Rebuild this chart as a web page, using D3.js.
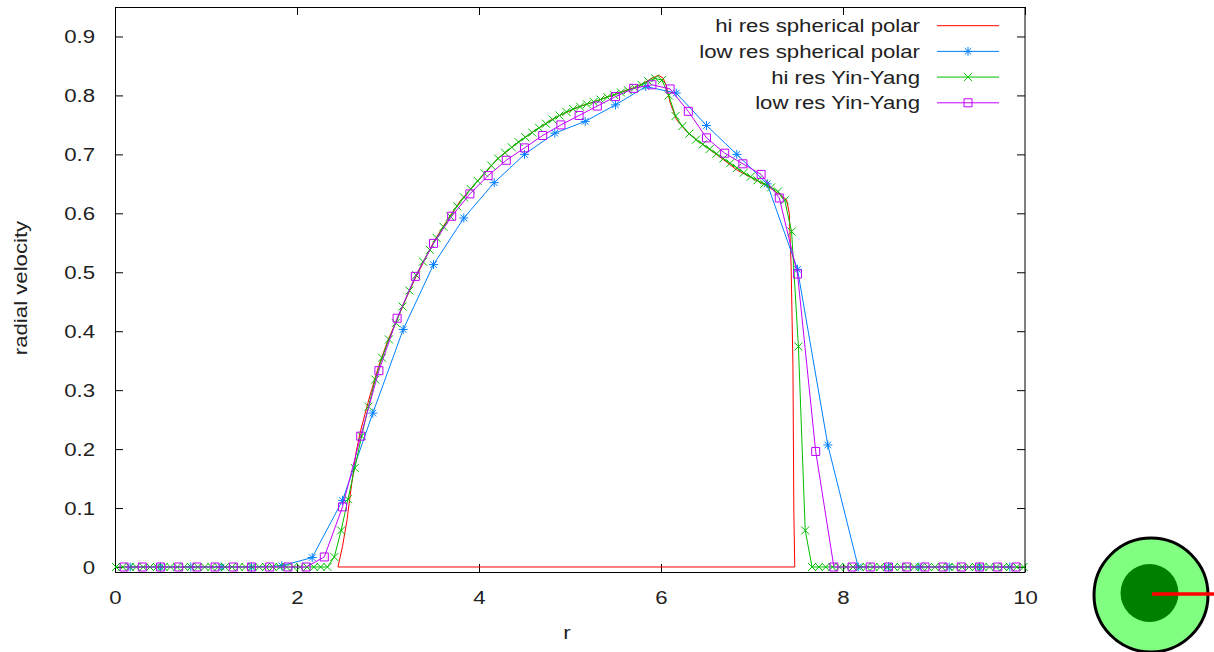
<!DOCTYPE html>
<html><head><meta charset="utf-8">
<script src="https://cdn.jsdelivr.net/npm/d3@7"></script>
<style>
body{margin:0;background:#fff}
svg{display:block}
text{font-family:"Liberation Sans",Arial,sans-serif;fill:#222}
</style></head><body>
<script>
// ---------- data ----------
const xTicks = [0, 2, 4, 6, 8, 10];
const yTicks = [0, 0.1, 0.2, 0.3, 0.4, 0.5, 0.6, 0.7, 0.8, 0.9];
const yTickLabels = ["0","0.1","0.2","0.3","0.4","0.5","0.6","0.7","0.8","0.9"];
const seriesNames = ["hi res spherical polar","low res spherical polar","hi res Yin-Yang","low res Yin-Yang"];

// hi res spherical polar (line only)
const hiSpR = [2.45,2.50,2.55,2.60,2.65,2.70,2.80,2.90,3.00,3.10,3.20,3.30,3.40,3.50,3.60,3.70,3.80,3.90,4.00,4.10,4.20,4.30,4.40,4.50,4.60,4.70,4.80,4.90,5.00,5.10,5.20,5.30,5.40,5.50,5.60,5.70,5.80,5.90,5.97,6.02,6.06,6.10,6.17,6.28,6.43,6.61,6.83,7.00,7.20,7.30,7.38,7.41,7.43,7.45,7.46,7.47,2.45];
const hiSpV = [0,0.035,0.08,0.14,0.195,0.232,0.29,0.342,0.385,0.42,0.456,0.49,0.52,0.551,0.576,0.60,0.622,0.64,0.657,0.674,0.692,0.704,0.717,0.728,0.739,0.749,0.759,0.767,0.774,0.781,0.786,0.791,0.797,0.802,0.808,0.813,0.82,0.829,0.834,0.83,0.816,0.788,0.759,0.739,0.72,0.70,0.674,0.66,0.643,0.632,0.623,0.60,0.51,0.34,0.09,0,0];

// low res spherical polar
const loSpR = [0.167,0.5,0.833,1.167,1.5,1.833,2.167,2.5,2.833,3.167,3.5,3.833,4.167,4.5,4.833,5.167,5.5,5.833,6.167,6.5,6.833,7.167,7.5,7.833,8.167,8.5,8.833,9.167,9.5,9.833];
const loSpV = [0,0,0,0,0,0.002,0.016,0.113,0.261,0.403,0.513,0.592,0.652,0.700,0.736,0.756,0.784,0.815,0.804,0.749,0.700,0.650,0.505,0.207,0,0,0,0,0,0];

// hi res Yin-Yang
const hiYyR = [0.01,0.085,0.16,0.235,0.31,0.385,0.46,0.535,0.61,0.685,0.76,0.835,0.91,0.985,1.06,1.135,1.21,1.285,1.36,1.435,1.51,1.585,1.66,1.735,1.81,1.885,1.96,2.035,2.11,2.185,2.26,2.335,
 2.41,2.485,2.56,2.635,2.71,2.785,2.86,2.935,3.01,3.085,3.16,3.235,3.31,3.385,3.46,3.535,3.61,3.685,3.76,3.835,3.91,3.985,4.06,4.135,4.21,4.285,4.36,4.435,4.51,4.585,4.66,4.735,4.81,4.885,4.96,5.035,5.11,5.185,5.26,5.335,5.41,5.485,5.56,5.635,5.71,5.785,5.86,5.935,6.01,6.085,6.16,6.235,6.31,6.385,6.46,6.535,6.61,6.685,6.76,6.835,6.91,6.985,7.06,7.135,7.21,7.285,7.36,7.435,7.51,7.585,
 7.66,7.735,7.81,7.885,7.96,8.035,8.11,8.185,8.26,8.335,8.41,8.485,8.56,8.635,8.71,8.785,8.86,8.935,9.01,9.085,9.16,9.235,9.31,9.385,9.46,9.535,9.61,9.685,9.76,9.835,9.91,9.985];
const hiYyV = [0,0,0,0,0,0,0,0,0,0,0,0,0,0,0,0,0,0,0,0,0,0,0,0,0,0,0,0,0,0,0,0,
 0.017,0.062,0.115,0.168,0.222,0.272,0.318,0.355,0.386,0.414,
 0.442,0.469,0.495,0.518,0.538,0.558,0.577,0.595,0.612,0.627,
 0.641,0.655,0.668,0.681,0.693,0.703,0.712,0.721,0.729,0.737,
 0.745,0.752,0.759,0.766,0.772,0.777,0.781,0.785,0.789,0.793,
 0.797,0.801,0.805,0.809,0.813,0.818,0.824,0.829,0.826,0.800,
 0.765,0.748,0.735,0.725,0.717,0.709,0.701,0.693,0.685,0.677,
 0.669,0.662,0.656,0.650,0.644,0.637,0.622,0.569,0.374,0.062,
 0,0,0,0,0,0,0,0,0,0,0,0,0,0,0,0,0,0,0,0,0,0,0,0,0,0,0,0,0,0,0,0];

// low res Yin-Yang
const loYyR = [0.1,0.3,0.5,0.7,0.9,1.1,1.3,1.5,1.7,1.9,2.1,2.3,2.5,2.7,2.9,3.1,3.3,3.5,3.7,3.9,4.1,4.3,4.5,4.7,4.9,5.1,5.3,5.5,5.7,5.9,6.1,6.3,6.5,6.7,6.9,7.1,7.3,7.5,7.7,7.9,8.1,8.3,8.5,8.7,8.9,9.1,9.3,9.5,9.7,9.9];
const loYyV = [0,0,0,0,0,0,0,0,0,0,0,0.017,0.102,0.222,0.333,0.422,0.493,0.549,0.595,0.633,0.664,0.690,0.711,0.732,0.750,0.766,0.782,0.798,0.812,0.818,0.811,0.773,0.728,0.702,0.684,0.666,0.626,0.497,0.196,0,0,0,0,0,0,0,0,0,0,0];

// ---------- chart ----------
const W = 1214, H = 652;
const FS = 18.5, SX = 1.2;
const colors = ["#ff0000","#0080ff","#00c000","#c000ff"];
const markers = [null,"star","cross","square"];

const svg = d3.select("body").append("svg").attr("width", W).attr("height", H);
const x = d3.scaleLinear().domain([0, 10]).range([115, 1025]);
const y = d3.scaleLinear().domain([-0.0085, 0.95]).range([572, 7]);

function stretch(sel, anchorX) {
  sel.attr("x", anchorX / SX).attr("transform", `scale(${SX},1)`)
     .style("font-size", FS + "px").attr("fill", "#222");
}

// axes
const gB = svg.append("g").attr("transform", "translate(0,572)")
  .call(d3.axisBottom(x).tickValues(xTicks).tickSizeInner(-8).tickSizeOuter(0).tickPadding(19).tickFormat(d3.format("d")));
const gL = svg.append("g").attr("transform", "translate(115,0)")
  .call(d3.axisLeft(y).tickValues(yTicks).tickSizeInner(-8).tickSizeOuter(0).tickPadding(20).tickFormat((d, i) => yTickLabels[i]));
const gT = svg.append("g").attr("transform", "translate(0,7)")
  .call(d3.axisTop(x).tickValues(xTicks).tickSizeInner(-8).tickSizeOuter(0).tickFormat(""));
const gR = svg.append("g").attr("transform", "translate(1025,0)")
  .call(d3.axisRight(y).tickValues(yTicks).tickSizeInner(-8).tickSizeOuter(0).tickFormat(""));
[gB, gL, gT, gR].forEach(g => {
  g.select(".domain").remove();
  g.selectAll(".tick line").attr("stroke", "#000").attr("stroke-width", 1);
  g.attr("font-family", null).attr("font-size", null);
});
gB.selectAll(".tick text").each(function () {
  d3.select(this).attr("y", 19).attr("dy", "0.71em").call(stretch, 0);
});
gL.selectAll(".tick text").each(function () {
  d3.select(this).attr("dy", "0.35em").call(stretch, -20);
});

// frame
svg.append("rect").attr("x", 115.5).attr("y", 7.5).attr("width", 909.5).attr("height", 565)
  .attr("fill", "none").attr("stroke", "#000").attr("stroke-width", 1);

// axis titles
svg.append("text").attr("text-anchor", "middle")
  .attr("transform", `translate(567,639) scale(${SX},1)`).style("font-size", FS + "px").text("r");
svg.append("text").attr("text-anchor", "middle")
  .attr("transform", `translate(27,288) rotate(-90) scale(${SX},1)`).style("font-size", FS + "px").text("radial velocity");

function markerPath(type) {
  if (type === "star") return "M-4.5,0H4.5M0,-4.5V4.5M-3.3,-3.3L3.3,3.3M-3.3,3.3L3.3,-3.3";
  if (type === "cross") return "M-4,-4L4,4M-4,4L4,-4";
  if (type === "square") return "M-4,-4H4V4H-4Z";
  return "";
}

const series = [
  {r: hiSpR, v: hiSpV},
  {r: loSpR, v: loSpV},
  {r: hiYyR, v: hiYyV},
  {r: loYyR, v: loYyV}
];
const line = d3.line().x(d => x(d[0])).y(d => y(d[1]));

series.forEach((s, i) => {
  const pts = s.r.map((r, k) => [r, s.v[k]]);
  const g = svg.append("g");
  g.append("path").attr("d", line(pts)).attr("fill", "none")
    .attr("stroke", colors[i]).attr("stroke-width", 1);
  if (markers[i]) {
    g.selectAll("path.m").data(pts).join("path").attr("class", "m")
      .attr("transform", d => `translate(${x(d[0])},${y(d[1])})`)
      .attr("d", markerPath(markers[i])).attr("fill", "none")
      .attr("stroke", colors[i]).attr("stroke-width", 1);
  }
});

// legend
const legY = [25.7, 51.4, 77.1, 102.8];
seriesNames.forEach((name, i) => {
  const g = svg.append("g").attr("transform", `translate(0,${legY[i]})`);
  g.append("text").attr("text-anchor", "end").attr("dy", "0.35em").text(name).call(stretch, 920);
  g.append("line").attr("x1", 937).attr("x2", 999).attr("y1", 0).attr("y2", 0)
    .attr("stroke", colors[i]).attr("stroke-width", 1);
  if (markers[i]) {
    g.append("path").attr("transform", "translate(968,0)").attr("d", markerPath(markers[i]))
      .attr("fill", "none").attr("stroke", colors[i]).attr("stroke-width", 1);
  }
});

// inset diagram
const inset = svg.append("g");
inset.append("circle").attr("cx", 1151).attr("cy", 595).attr("r", 57)
  .attr("fill", "#80ff80").attr("stroke", "#000").attr("stroke-width", 3);
inset.append("circle").attr("cx", 1149.5).attr("cy", 593).attr("r", 29).attr("fill", "#007f00");
inset.append("line").attr("x1", 1152).attr("x2", 1214).attr("y1", 594).attr("y2", 594)
  .attr("stroke", "#ff0000").attr("stroke-width", 3.5);
</script>
</body></html>
